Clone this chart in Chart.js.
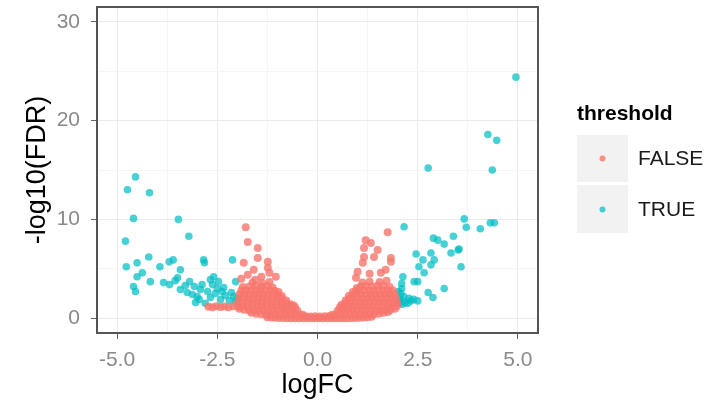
<!DOCTYPE html>
<html>
<head>
<meta charset="utf-8">
<script src="https://cdn.jsdelivr.net/npm/chart.js@4.4.1/dist/chart.umd.min.js"></script>
<style>
html,body{margin:0;padding:0;background:#fff;}
#wrap{position:relative;width:709px;height:402px;}
</style>
</head>
<body>
<div id="wrap"><canvas id="c" width="709" height="402"></canvas></div>
<script>
// ---- tick labels ----
const xMajor = [-5, -2.5, 0, 2.5, 5];
const xMinor = [-3.75, -1.25, 1.25, 3.75];
const yMajor = [0, 10, 20, 30];
const yMinor = [5, 15, 25];
const legendTitle = 'threshold';
const seriesNames = ['FALSE', 'TRUE'];

// ---- FALSE points (logFC, -log10 FDR): dense core ----
const falseCoreLow = [
 [-1.25,0.1],[-1.15,0.06],[-1.05,0.04],[-0.95,0.02],[-0.85,0.01],[-0.75,0],[-0.65,0],[-0.55,0],[-0.45,0],[-0.35,0],[-0.25,0],[-0.15,0],[-0.05,0],[0.05,0],[0.15,0],[0.25,0],[0.35,0],[0.45,0],[0.55,0],[0.65,0],[0.75,0],[0.85,0.01],[0.95,0.02],[1.05,0.04],[1.15,0.06],[1.25,0.1],[1.35,0.14],
 [-0.3,0.2],[-0.18,0.18],[-0.06,0.2],[0.06,0.18],[0.18,0.2],[0.3,0.22],
 [-1.65,0.55],[-1.53,0.45],[-1.41,0.4],[-1.29,0.38],[-1.17,0.4],[-1.05,0.42],[-0.93,0.4],[-0.81,0.44],[-0.69,0.42],[-0.57,0.4],[-0.45,0.38],[-0.37,0.36],[0.37,0.36],[0.45,0.38],[0.57,0.4],[0.69,0.42],[0.81,0.44],[0.93,0.4],[1.05,0.42],[1.17,0.4],[1.29,0.38],[1.41,0.4],[1.53,0.45],[1.65,0.55],[1.76,0.62],
 [-1.95,0.95],[-1.83,0.85],[-1.71,0.8],[-1.59,0.78],[-1.47,0.8],[-1.35,0.82],[-1.23,0.8],[-1.11,0.84],[-0.99,0.8],[-0.87,0.82],[-0.75,0.8],[-0.63,0.78],[-0.5,0.75],[0.5,0.75],[0.62,0.78],[0.74,0.8],[0.86,0.82],[0.98,0.8],[1.1,0.84],[1.22,0.8],[1.34,0.82],[1.46,0.8],[1.58,0.78],[1.7,0.8],[1.82,0.85],[1.93,0.95]
];
const falseCoreMid = [
 [-2.72,1.15],[-2.62,1.1],[-2.52,1.2],[-2.42,1.12],[-2.32,1.18],[-2.22,1.1],[-2.1,1.2],[-1.98,1.22],[-1.86,1.2],[-1.74,1.18],[-1.62,1.2],[-1.5,1.22],[-1.38,1.2],[-1.26,1.18],[-1.14,1.2],[-1.02,1.22],[-0.9,1.2],[-0.78,1.18],[-0.66,1.15],[-0.56,1.1],[0.56,1.1],[0.66,1.15],[0.78,1.18],[0.9,1.2],[1.02,1.22],[1.14,1.2],[1.26,1.18],[1.38,1.2],[1.5,1.22],[1.62,1.2],[1.74,1.18],[1.86,1.2],[1.98,1.22],
 [-1.98,1.6],[-1.86,1.62],[-1.74,1.58],[-1.62,1.6],[-1.5,1.62],[-1.38,1.6],[-1.26,1.58],[-1.14,1.6],[-1.02,1.62],[-0.9,1.6],[-0.78,1.5],[-0.68,1.4],[-0.6,1.3],[0.6,1.35],[0.7,1.5],[0.82,1.6],[0.94,1.62],[1.06,1.6],[1.18,1.58],[1.3,1.6],[1.42,1.62],[1.54,1.6],[1.66,1.58],[1.78,1.6],[1.9,1.62],[1.98,1.6],
 [-1.96,2.0],[-1.84,2.02],[-1.72,1.98],[-1.6,2.0],[-1.48,2.02],[-1.36,2.0],[-1.24,1.98],[-1.12,2.0],[-1.0,2.02],[-0.88,1.95],[-0.78,1.8],[0.7,1.8],[0.78,1.95],[0.88,2.0],[1.0,2.02],[1.12,2.0],[1.24,1.98],[1.36,2.0],[1.48,2.02],[1.6,2.0],[1.72,1.98],[1.84,2.02],[1.96,2.0]
];
const falseCoreHigh = [
 [-1.95,2.4],[-1.83,2.42],[-1.71,2.38],[-1.59,2.4],[-1.47,2.42],[-1.35,2.4],[-1.23,2.38],[-1.11,2.4],[-0.99,2.35],[-0.89,2.25],[0.78,2.25],[0.87,2.35],[0.96,2.42],[1.08,2.4],[1.2,2.38],[1.32,2.4],[1.44,2.42],[1.56,2.4],[1.68,2.38],[1.8,2.4],[1.92,2.42],
 [-1.9,2.8],[-1.78,2.82],[-1.66,2.78],[-1.54,2.8],[-1.42,2.84],[-1.3,2.8],[-1.18,2.82],[-1.06,2.75],[-0.97,2.65],[0.88,2.65],[0.96,2.75],[1.04,2.8],[1.16,2.82],[1.28,2.78],[1.4,2.8],[1.52,2.84],[1.64,2.8],[1.76,2.78],[1.88,2.8],
 [-1.86,3.15],[-1.7,3.2],[-1.55,3.25],[-1.4,3.2],[-1.25,3.25],[-1.12,3.1],[0.98,3.05],[1.08,3.2],[1.2,3.25],[1.35,3.2],[1.5,3.3],[1.65,3.25],[1.8,3.15],
 [-1.62,3.6],[-1.38,3.55],[-1.2,3.65],[1.12,3.6],[1.3,3.7],[1.55,3.65],[1.72,3.8]
];
// ---- FALSE points: scattered above the core ----
const falseScatter = [
 [-1.79,9.2],[-1.74,7.7],[-1.49,7.1],[-1.49,6.1],[-1.84,5.6],[-1.24,5.7],[-1.24,5.1],[-1.59,4.9],[-1.04,4.2],[-1.4,4.2],[-1.74,4.4],[-1.2,4.6],[-1.9,4.0],[-1.55,3.9],
 [1.75,8.7],[1.2,7.9],[1.33,7.6],[1.16,7.1],[1.5,6.9],[1.83,6.1],[1.16,6.2],[1.41,6.2],[1.0,4.7],[1.83,5.7],[1.58,4.6],[0.96,4.1],[1.13,5.6],[1.3,4.5],[1.7,4.9]
];
// ---- TRUE points ----
const trueLeft = [
 [-4.54,14.3],[-4.74,13.0],[-4.19,12.7],[-4.59,10.1],[-3.47,10.0],[-3.21,8.3],[-4.79,7.8],[-4.77,5.2],[-4.5,5.6],[-4.21,6.2],[-3.93,5.2],[-3.7,5.7],[-3.6,5.9],[-3.42,4.9],[-4.37,4.6],[-4.5,4.2],[-4.17,3.7],[-4.59,3.2],[-4.54,2.7],[-3.84,3.6],[-3.69,3.4],[-3.49,4.1],[-3.19,3.7],[-3.07,3.2],[-2.92,2.9],[-3.42,2.9],[-3.25,2.6],[-3.12,2.4],[-3.04,1.6],[-2.95,1.9],[-2.84,5.9],[-2.82,5.6],[-2.74,2.7],[-2.67,3.9],[-2.62,3.4],[-2.59,4.2],[-2.47,3.7],[-2.34,3.1],[-2.12,5.9],[-2.04,3.7],[-2.09,2.2],[-2.67,2.1],[-2.42,1.9],[-2.3,2.3],[-2.55,2.5],[-2.2,1.8],[-2.05,1.6],[-2.15,2.6],[-2.0,2.0],[-2.8,1.5],[-3.0,2.2],[-2.5,3.0],[-2.38,2.7],[-3.3,3.3],[-3.55,3.8],[-2.88,3.4]
];
const trueRight = [
 [4.95,24.4],[4.25,18.6],[4.47,18.0],[2.76,15.2],[4.36,15.0],
 [3.66,10.05],[3.71,9.2],[4.06,9.05],[4.31,9.65],[4.41,9.65],[3.39,8.3],[2.89,8.1],[3.0,7.9],[3.16,7.5],[2.16,9.25],[3.53,7.0],
 [2.46,6.5],[2.83,6.6],[3.33,6.6],[3.51,6.9],[3.58,5.2],[2.63,5.9],[2.91,5.9],[2.53,5.2],[2.66,4.6],[2.83,5.4],[2.41,3.7],[2.5,3.7],[2.13,4.2],[2.76,2.6],[2.88,2.1],[3.16,3.0],[2.5,1.75],[2.33,1.75],[2.4,1.9],
 [2.03,1.5],[2.05,2.0],[2.08,2.5],[2.1,3.0],[2.06,1.8],[2.12,1.4],[2.15,2.2],[2.02,2.7],[2.18,1.6],[2.25,1.5],[2.1,3.5],[2.28,2.0]
];

const RED = 'rgba(248,118,109,0.8)';
const CYAN = 'rgba(0,191,196,0.72)';
const FONT = "'Liberation Sans', Arial, Helvetica, sans-serif";

const toXY = arr => arr.map(p => ({x: p[0], y: p[1]}));
const falseData = toXY([].concat(falseCoreLow, falseCoreMid, falseCoreHigh, falseScatter));
const trueData = toXY([].concat(trueLeft, trueRight));

const isIn = (list, v) => list.some(m => Math.abs(m - v) < 1e-9);

const frame = {
  id: 'frame',
  afterDatasetsDraw(chart) {
    const a = chart.chartArea, ctx = chart.ctx;
    ctx.save();
    ctx.strokeStyle = '#555';
    ctx.lineWidth = 2;
    ctx.strokeRect(a.left, a.top, a.right - a.left, a.bottom - a.top);
    ctx.restore();
  },
  afterDraw(chart) {
    const ctx = chart.ctx;
    ctx.save();
    ctx.fillStyle = '#000';
    ctx.font = 'bold 21px ' + FONT;
    ctx.textBaseline = 'middle';
    ctx.textAlign = 'left';
    ctx.fillText(legendTitle, 577, 114);
    ctx.fillStyle = '#f2f2f2';
    ctx.fillRect(577, 135, 51, 47);
    ctx.fillRect(577, 185, 51, 48);
    ctx.fillStyle = RED;
    ctx.beginPath(); ctx.arc(602.5, 158.5, 3, 0, Math.PI * 2); ctx.fill();
    ctx.fillStyle = CYAN;
    ctx.beginPath(); ctx.arc(602.5, 209.5, 3, 0, Math.PI * 2); ctx.fill();
    ctx.fillStyle = '#1a1a1a';
    ctx.font = '21px ' + FONT;
    ctx.fillText(seriesNames[0], 638, 159);
    ctx.fillText(seriesNames[1], 638, 210);
    ctx.restore();
  }
};

new Chart(document.getElementById('c'), {
  type: 'scatter',
  data: {
    datasets: [
      {label: seriesNames[0], data: falseData, backgroundColor: RED, borderWidth: 0, pointRadius: 4, pointHoverRadius: 4},
      {label: seriesNames[1], data: trueData, backgroundColor: CYAN, borderWidth: 0, pointRadius: 3.8, pointHoverRadius: 3.8}
    ]
  },
  options: {
    responsive: false,
    animation: false,
    events: [],
    layout: {padding: {left: 0, right: 171, top: 7, bottom: 0}},
    plugins: {legend: {display: false}, tooltip: {enabled: false}},
    scales: {
      x: {
        type: 'linear', min: -5.5, max: 5.5,
        afterBuildTicks: s => { s.ticks = xMajor.concat(xMinor).sort((a, b) => a - b).map(v => ({value: v})); },
        afterFit: s => { s.height = 69; s.paddingLeft = 0; s.paddingRight = 0; },
        ticks: {
          autoSkip: false, maxRotation: 0, padding: 9,
          color: '#8a8a8a', font: {family: FONT, size: 21},
          callback: v => isIn(xMajor, v) ? v.toFixed(1) : ''
        },
        grid: {
          drawTicks: true, tickLength: 6,
          color: c => (c.tick && isIn(xMajor, c.tick.value)) ? '#ebebeb' : '#f5f5f5',
          tickColor: c => (c.tick && isIn(xMajor, c.tick.value)) ? '#666' : 'rgba(0,0,0,0)',
          lineWidth: 1
        },
        border: {display: false},
        title: {display: true, text: 'logFC', color: '#000', font: {family: FONT, size: 27}, padding: {top: 0, bottom: 0}}
      },
      y: {
        type: 'linear', min: -1.5, max: 31.5,
        afterBuildTicks: s => { s.ticks = yMajor.concat(yMinor).sort((a, b) => a - b).map(v => ({value: v})); },
        afterFit: s => { s.width = 97; s.paddingTop = 0; s.paddingBottom = 0; },
        ticks: {
          autoSkip: false, padding: 11,
          color: '#8a8a8a', font: {family: FONT, size: 21},
          callback: v => isIn(yMajor, v) ? String(v) : ''
        },
        grid: {
          drawTicks: true, tickLength: 6,
          color: c => (c.tick && isIn(yMajor, c.tick.value)) ? '#ebebeb' : '#f5f5f5',
          tickColor: c => (c.tick && isIn(yMajor, c.tick.value)) ? '#666' : 'rgba(0,0,0,0)',
          lineWidth: 1
        },
        border: {display: false},
        title: {display: true, text: '-log10(FDR)', color: '#000', font: {family: FONT, size: 27}, padding: {top: 21, bottom: 0}}
      }
    }
  },
  plugins: [frame]
});
</script>
</body>
</html>
